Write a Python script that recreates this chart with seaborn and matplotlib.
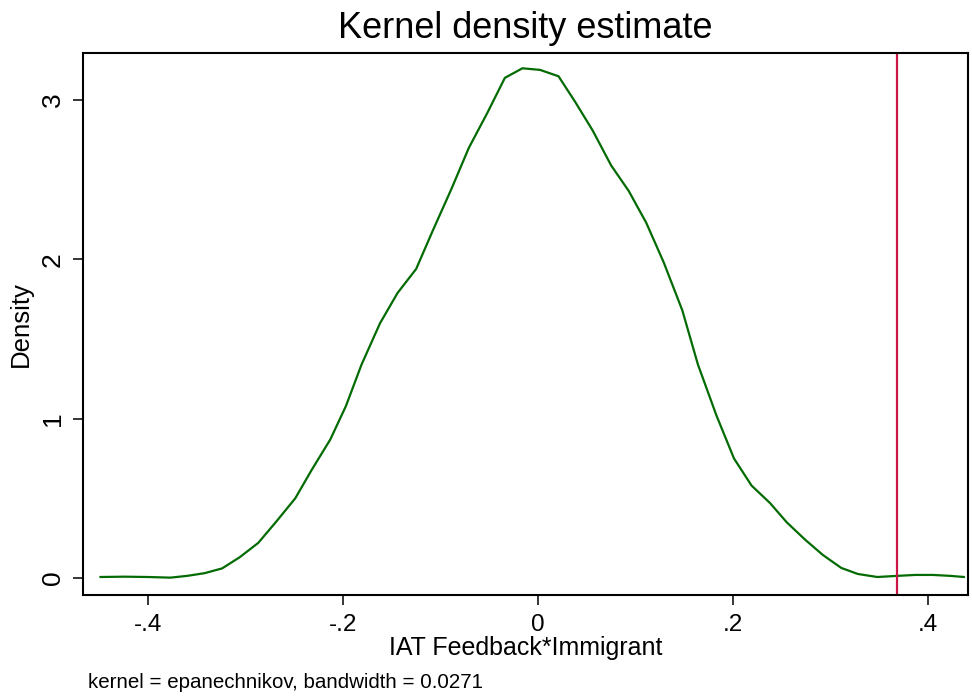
import matplotlib
matplotlib.use("Agg")
import matplotlib.pyplot as plt
import seaborn as sns
import pandas as pd

# Density curve points
x_vals = [-0.449, -0.424, -0.400, -0.377, -0.360, -0.342, -0.324, -0.306, -0.287,
          -0.269, -0.249, -0.232, -0.213, -0.197, -0.181, -0.162, -0.144, -0.125,
          -0.108, -0.089, -0.071, -0.052, -0.034, -0.016, 0.002, 0.021, 0.038,
          0.056, 0.075, 0.093, 0.111, 0.129, 0.148, 0.164, 0.183, 0.201, 0.219,
          0.238, 0.255, 0.274, 0.292, 0.311, 0.328, 0.348, 0.368, 0.387, 0.405,
          0.423, 0.437]
density = [0.006, 0.008, 0.006, 0.002, 0.013, 0.03, 0.06, 0.13, 0.22,
           0.35, 0.50, 0.68, 0.87, 1.08, 1.34, 1.60, 1.79, 1.94,
           2.18, 2.44, 2.70, 2.92, 3.14, 3.20, 3.19, 3.15, 2.99,
           2.81, 2.59, 2.43, 2.23, 1.98, 1.68, 1.34, 1.02, 0.75, 0.58,
           0.47, 0.35, 0.24, 0.145, 0.063, 0.025, 0.006, 0.013, 0.019, 0.019,
           0.013, 0.006]
ref_line = 0.368

x_ticks = [-0.4, -0.2, 0.0, 0.2, 0.4]
x_tick_labels = ["-.4", "-.2", "0", ".2", ".4"]
y_ticks = [0, 1, 2, 3]
y_tick_labels = ["0", "1", "2", "3"]

title = "Kernel density estimate"
x_label = "IAT Feedback*Immigrant"
y_label = "Density"
note = "kernel = epanechnikov, bandwidth = 0.0271"

sns.set_theme(style="white")
plt.rcParams["font.family"] = ["Liberation Sans", "DejaVu Sans"]

df = pd.DataFrame({"x": x_vals, "density": density})

fig = plt.figure(figsize=(9.72, 6.98), dpi=100)
ax = fig.add_axes([83 / 972, 1 - 595 / 698, (968 - 83) / 972, (595 - 53) / 698])

sns.lineplot(data=df, x="x", y="density", ax=ax, color="#036b03", linewidth=1.6,
             sort=False)
ax.axvline(ref_line, color="#cc1447", linewidth=1.6)

ax.set_xlim(-0.4667, 0.441)
ax.set_ylim(-0.107, 3.296)
ax.set_xticks(x_ticks)
ax.set_xticklabels(x_tick_labels)
ax.set_yticks(y_ticks)
ax.set_yticklabels(y_tick_labels, rotation=90, va="center")

ax.tick_params(axis="both", which="major", direction="out", length=7, width=1.1,
               color="black", labelcolor="black",
               bottom=True, left=True)
ax.tick_params(axis="x", labelsize=17.5, pad=7)
ax.tick_params(axis="y", labelsize=19, pad=6)
for s in ax.spines.values():
    s.set_color("black")
    s.set_linewidth(1.5)

ax.set_xlabel(x_label, fontsize=18, color="black", labelpad=0)
ax.set_ylabel(y_label, fontsize=18.5, color="black", labelpad=6)
ax.set_title(title, fontsize=26, color="black", pad=11)

fig.text(88 / 972, 1 - 683 / 698, note, fontsize=14.8, color="black",
         ha="left", va="center")

fig.savefig("out.png", dpi=100, facecolor="white")
